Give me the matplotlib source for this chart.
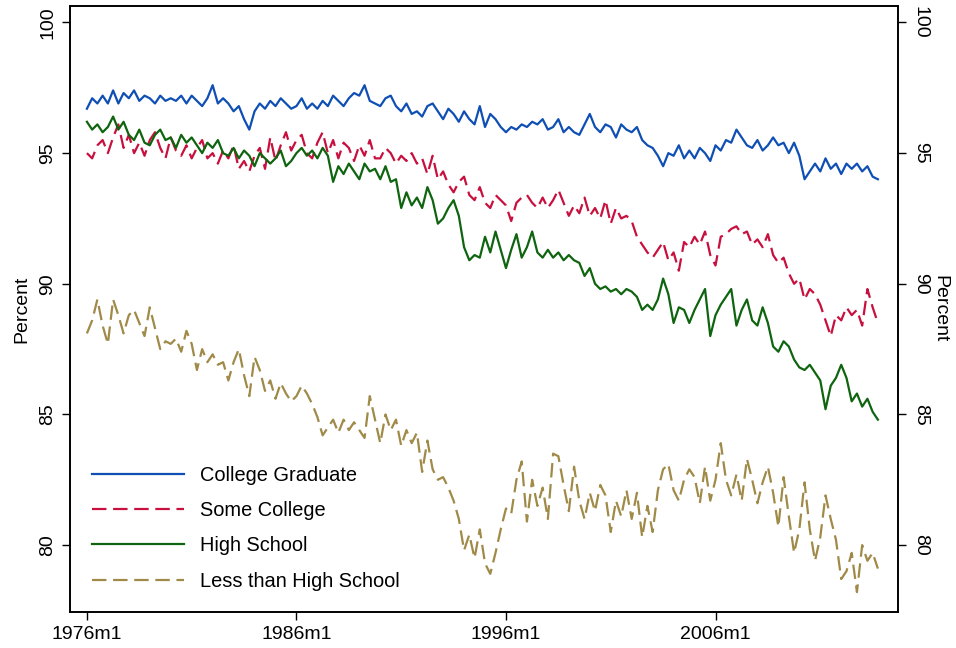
import matplotlib
matplotlib.use("Agg")
import matplotlib.pyplot as plt

# Quarterly readings (1976q1 .. 2013q4), percent.
years = list(range(1976, 2014))

collegeGrad = [
    96.7, 97.1, 96.9, 97.2,  96.9, 97.4, 96.9, 97.3,  97.1, 97.4, 97.0, 97.2,
    97.1, 96.9, 97.2, 97.0,  97.1, 97.0, 97.2, 96.9,  97.2, 97.0, 96.8, 97.1,
    97.6, 96.9, 97.1, 96.9,  96.6, 96.8, 96.3, 95.9,  96.6, 96.9, 96.7, 97.0,
    96.8, 97.1, 96.9, 96.7,  96.8, 97.1, 96.7, 96.9,  96.7, 97.0, 96.8, 97.2,
    97.0, 96.8, 97.1, 97.3,  97.2, 97.6, 97.0, 96.9,  96.8, 97.1, 97.2, 96.8,
    96.6, 96.9, 96.5, 96.6,  96.4, 96.8, 96.9, 96.6,  96.3, 96.7, 96.5, 96.2,
    96.6, 96.3, 96.1, 96.8,  96.0, 96.5, 96.3, 96.0,  95.8, 96.0, 95.9, 96.1,
    96.0, 96.2, 96.1, 96.3,  95.9, 96.0, 96.3, 95.8,  96.0, 95.8, 95.7, 96.1,
    96.5, 96.0, 95.8, 96.1,  96.0, 95.6, 96.1, 95.9,  95.8, 96.0, 95.5, 95.3,
    95.2, 94.9, 94.5, 95.0,  94.9, 95.3, 94.8, 95.1,  94.8, 95.2, 95.0, 94.7,
    95.3, 95.1, 95.5, 95.4,  95.9, 95.6, 95.3, 95.2,  95.5, 95.1, 95.3, 95.6,
    95.3, 95.4, 95.0, 95.4,  94.9, 94.0, 94.3, 94.6,  94.3, 94.8, 94.4, 94.6,
    94.2, 94.6, 94.4, 94.6,  94.3, 94.5, 94.1, 94.0,
]

someCollege = [
    95.0, 94.8, 95.3, 95.5,  95.0, 95.6, 96.1, 95.2,  95.7, 95.0, 95.4, 94.9,
    95.5, 95.8, 95.2, 94.8,  95.6, 95.1, 94.9, 95.3,  94.8, 95.2, 95.5, 94.8,
    95.0, 94.6, 95.1, 94.8,  95.3, 94.4, 94.7, 94.3,  94.9, 95.2, 94.4, 95.6,
    94.7, 95.3, 95.8, 95.1,  95.5, 95.7, 95.0, 94.8,  95.4, 95.8, 95.0, 95.5,
    94.8, 95.4, 95.2, 94.7,  95.3, 94.9, 95.5, 94.8,  94.8, 95.2, 95.0, 94.6,
    94.9, 94.7, 95.0, 94.6,  94.8, 94.2, 94.9, 94.0,  94.3, 93.8, 93.5, 93.9,
    94.1, 93.4, 93.2, 93.7,  93.1, 92.9, 93.4, 93.2,  93.0, 92.4, 93.1, 93.3,
    93.4, 93.1, 92.9, 93.3,  92.9, 93.2, 93.6, 93.1,  92.6, 93.0, 92.7, 93.3,
    92.6, 92.9, 92.5, 93.2,  92.3, 92.9, 92.5, 92.6,  92.4, 91.8, 91.5, 91.2,
    91.0, 91.3, 91.6, 90.9,  91.2, 90.5, 91.6, 91.4,  91.8, 91.5, 92.0, 91.1,
    90.7, 91.8, 91.9, 92.1,  92.2, 91.9, 92.0, 91.5,  91.7, 91.4, 91.9, 91.1,
    90.8, 91.0, 90.4, 90.0,  90.2, 89.4, 89.8, 89.6,  89.2, 88.6, 88.0, 88.8,
    88.6, 89.1, 88.8, 89.0,  88.4, 89.8, 89.1, 88.5,
]

highSchool = [
    96.2, 95.9, 96.1, 95.8,  96.0, 96.4, 95.9, 96.2,  95.7, 95.5, 95.9, 95.4,
    95.3, 95.7, 95.9, 95.5,  95.6, 95.2, 95.7, 95.4,  95.6, 95.3, 95.0, 95.4,
    95.2, 95.5, 95.0, 94.9,  95.2, 94.8, 95.1, 94.9,  94.5, 95.0, 94.8, 94.6,
    94.8, 95.1, 94.5, 94.7,  95.0, 95.2, 94.9, 95.1,  94.8, 95.2, 94.9, 93.9,
    94.5, 94.2, 94.6, 94.3,  94.0, 94.6, 94.3, 94.4,  94.0, 94.5, 93.9, 94.0,
    92.9, 93.5, 93.0, 93.3,  92.9, 93.7, 93.2, 92.3,  92.5, 92.9, 93.2, 92.6,
    91.4, 90.9, 91.1, 91.0,  91.8, 91.2, 92.0, 91.3,  90.6, 91.3, 91.9, 91.0,
    91.4, 92.0, 91.2, 91.0,  91.3, 91.0, 91.2, 90.9,  91.1, 90.9, 90.8, 90.3,
    90.6, 90.0, 89.8, 89.9,  89.7, 89.8, 89.6, 89.8,  89.7, 89.5, 89.0, 89.2,
    89.0, 89.4, 90.2, 89.6,  88.5, 89.1, 89.0, 88.5,  89.0, 89.4, 89.8, 88.0,
    88.8, 89.2, 89.5, 89.8,  88.4, 89.0, 89.4, 88.6,  88.4, 89.1, 88.5, 87.6,
    87.4, 87.8, 87.6, 87.1,  86.8, 86.7, 86.9, 86.6,  86.3, 85.2, 86.1, 86.4,
    86.9, 86.4, 85.5, 85.8,  85.3, 85.6, 85.1, 84.8,
]

lessThanHS = [
    88.1, 88.6, 89.4, 88.4,  87.7, 89.4, 88.8, 88.1,  88.8, 89.0, 88.5, 88.0,
    89.1, 88.3, 87.5, 87.8,  87.7, 87.9, 87.4, 88.2,  87.7, 86.7, 87.5, 87.0,
    87.3, 86.9, 87.0, 86.3,  87.0, 87.5, 86.5, 85.7,  87.2, 86.7, 85.9, 86.3,
    85.6, 86.2, 85.8, 85.5,  85.7, 86.1, 85.8, 85.4,  84.9, 84.2, 84.5, 84.8,
    84.3, 84.8, 84.4, 84.7,  84.4, 84.1, 85.7, 84.8,  83.9, 85.0, 84.4, 84.8,
    83.8, 84.4, 83.9, 84.3,  82.8, 84.0, 82.9, 82.5,  82.6, 82.2, 81.7, 81.0,
    79.8, 80.4, 79.5, 80.6,  79.3, 78.9, 79.7, 80.6,  81.4, 81.2, 82.5, 83.2,
    80.9, 82.5, 81.5, 82.2,  81.0, 83.5, 83.4, 82.3,  81.3, 83.0, 81.7, 81.0,
    82.0, 81.3, 82.3, 81.9,  80.5, 81.7, 81.1, 82.1,  81.0, 82.0, 80.3, 81.5,
    80.5, 82.1, 82.9, 83.1,  82.1, 81.7, 82.5, 82.9,  82.6, 81.6, 83.0, 81.7,
    82.5, 83.9, 82.5, 81.9,  82.7, 81.7, 83.3, 82.5,  81.6, 82.4, 83.0, 82.0,
    80.7, 82.6, 81.1, 79.7,  80.6, 82.4, 80.6, 79.4,  80.3, 81.9, 81.0, 80.2,
    78.7, 79.0, 79.7, 78.2,  80.0, 79.4, 79.7, 79.1,
]

labels = ["College Graduate", "Some College", "High School", "Less than High School"]
colors = ["#0f4fb4", "#c8103f", "#0f640f", "#a08a48"]

tickYears = [1976, 1986, 1996, 2006]
yTicks = [80, 85, 90, 95, 100]

# Month index since 1976m1, one point per quarter.
months = [3 * i for i in range(len(collegeGrad))]

plt.rcParams["font.family"] = ["Liberation Sans", "DejaVu Sans"]
fig = plt.figure(figsize=(9.56, 6.48), dpi=100)
ax = fig.add_axes([0.0732, 0.0556, 0.8661, 0.9351])

series = [collegeGrad, someCollege, highSchool, lessThanHS]
for i in range(len(series)):
    line, = ax.plot(months, series[i], color=colors[i], lw=1.6, label=labels[i])
    if i % 2 == 1:
        line.set_dashes((6.5, 3))

ax.set_xlim(-9.7, 464.5)
ax.set_ylim(77.44, 100.63)

ax.set_xticks([(y - 1976) * 12 for y in tickYears])
ax.set_xticklabels(["%dm1" % y for y in tickYears], fontsize=14)
ax.set_yticks(yTicks)
ax.set_yticklabels([str(v) for v in yTicks], fontsize=14, rotation=90, va="center")
ax.tick_params(axis="both", direction="out", length=6, width=1.0, pad=4)
ax.set_ylabel("Percent", fontsize=14, labelpad=6)

# Mirror the y axis on the right side.
ax2 = ax.twinx()
ax2.set_ylim(ax.get_ylim())
ax2.set_yticks(yTicks)
ax2.set_yticklabels([str(v) for v in yTicks], fontsize=14, rotation=-90, va="center")
ax2.tick_params(axis="y", direction="out", length=6, width=1.0, pad=4)
ax2.set_ylabel("Percent", fontsize=14, rotation=-90, va="center", ha="center")
ax2.yaxis.set_label_coords(1.051, 0.5)

for a in [ax, ax2]:
    for s in a.spines.values():
        s.set_linewidth(1.2)

ax.legend(loc="lower left", bbox_to_anchor=(0.026, 0.035), frameon=False, fontsize=14.4,
          handlelength=4.6, handletextpad=0.8, labelspacing=0.82, borderpad=0, borderaxespad=0)

fig.savefig("out.png", dpi=100)
